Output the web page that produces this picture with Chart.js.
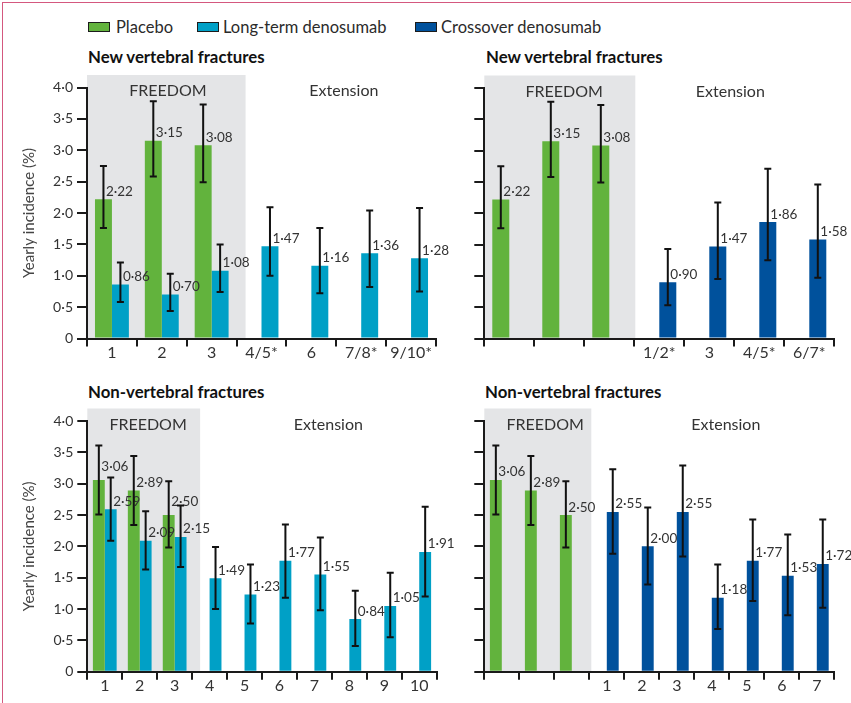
<!DOCTYPE html>
<html>
<head>
<meta charset="utf-8">
<script src="https://cdn.jsdelivr.net/npm/chart.js@4.4.1/dist/chart.umd.min.js"></script>
<style>
  html, body { margin: 0; padding: 0; background: #fff; }
  body { width: 851px; height: 703px; position: relative; overflow: hidden;
         font-family: Lato, "Open Sans", sans-serif; color: #2b2b2b; }
  .frame { position: absolute; left: 2px; top: 2px; width: 860px; height: 720px;
           border-top: 1.5px solid #d4587f; border-left: 1.5px solid #d4587f; }
  .abs { position: absolute; white-space: nowrap; line-height: 20px; }
  .sw { position: absolute; width: 20px; height: 8px; border: 1.5px solid #1c1c1c; }
  .leg { font-size: 16.5px; top: 16.6px; color: #2b2b2b; }
  .ttl { font-size: 16.8px; font-weight: bold; color: #111; }
  canvas { position: absolute; }
</style>
</head>
<body>
<div class="frame"></div>

<!-- legend -->
<div class="sw" style="left:88px;top:21.5px;background:#62b33d"></div>
<div class="abs leg" style="left:116px">Placebo</div>
<div class="sw" style="left:197px;top:21.5px;background:#00a0c6"></div>
<div class="abs leg" style="left:223px">Long-term denosumab</div>
<div class="sw" style="left:415px;top:21.5px;background:#00519c"></div>
<div class="abs leg" style="left:441px">Crossover denosumab</div>

<!-- panel titles -->
<div class="abs ttl" style="left:88px;top:46.8px">New vertebral fractures</div>
<div class="abs ttl" style="left:486px;top:46.8px">New vertebral fractures</div>
<div class="abs ttl" style="left:88px;top:381.8px">Non-vertebral fractures</div>
<div class="abs ttl" style="left:485px;top:381.8px">Non-vertebral fractures</div>

<canvas id="vertLong" width="460" height="300" style="left:0;top:70px"></canvas>
<canvas id="vertCross" width="411" height="300" style="left:440px;top:70px"></canvas>
<canvas id="nonVertLong" width="460" height="303" style="left:0;top:400px"></canvas>
<canvas id="nonVertCross" width="411" height="303" style="left:440px;top:400px"></canvas>

<script>
// ---- categories (years) ----
const vertYearsLong   = ['1', '2', '3', '4/5*', '6', '7/8*', '9/10*'];
const vertYearsCross  = ['', '', '', '1/2*', '3', '4/5*', '6/7*'];
const nonVertYearsLong  = ['1', '2', '3', '4', '5', '6', '7', '8', '9', '10'];
const nonVertYearsCross = ['', '', '', '1', '2', '3', '4', '5', '6', '7'];

// ---- new vertebral fractures, yearly incidence (%) with 95% CI ----
const vertPlacebo    = [2.22, 3.15, 3.08, null, null, null, null];
const vertPlaceboLo  = [1.76, 2.58, 2.49, null, null, null, null];
const vertPlaceboHi  = [2.75, 3.78, 3.73, null, null, null, null];

const vertLongTerm   = [0.86, 0.70, 1.08, 1.47, 1.16, 1.36, 1.28];
const vertLongTermLo = [0.58, 0.44, 0.74, 1.00, 0.72, 0.82, 0.75];
const vertLongTermHi = [1.21, 1.03, 1.50, 2.09, 1.76, 2.04, 2.08];

const vertCrossover   = [null, null, null, 0.90, 1.47, 1.86, 1.58];
const vertCrossoverLo = [null, null, null, 0.53, 0.95, 1.25, 0.97];
const vertCrossoverHi = [null, null, null, 1.43, 2.17, 2.71, 2.46];

// ---- non-vertebral fractures, yearly incidence (%) with 95% CI ----
const nonVertPlacebo   = [3.06, 2.89, 2.50, null, null, null, null, null, null, null];
const nonVertPlaceboLo = [2.51, 2.34, 1.98, null, null, null, null, null, null, null];
const nonVertPlaceboHi = [3.61, 3.44, 3.04, null, null, null, null, null, null, null];

const nonVertLongTerm   = [2.59, 2.09, 2.15, 1.49, 1.23, 1.77, 1.55, 0.84, 1.05, 1.91];
const nonVertLongTermLo = [2.09, 1.63, 1.67, 1.00, 0.77, 1.18, 0.98, 0.41, 0.55, 1.20];
const nonVertLongTermHi = [3.10, 2.56, 2.65, 1.99, 1.71, 2.35, 2.14, 1.29, 1.58, 2.63];

const nonVertCrossover   = [null, null, null, 2.55, 2.00, 2.55, 1.18, 1.77, 1.53, 1.72];
const nonVertCrossoverLo = [null, null, null, 1.88, 1.39, 1.84, 0.68, 1.13, 0.90, 1.02];
const nonVertCrossoverHi = [null, null, null, 3.23, 2.62, 3.29, 1.71, 2.43, 2.19, 2.43];

// ---- styling ----
const GREEN = '#62b33d', CYAN = '#00a0c6', NAVY = '#00519c';
const INK = '#1a1a1a', TEXT = '#333';
const FAMILY = 'Lato, "Open Sans", sans-serif';

Chart.defaults.font.family = FAMILY;

const tickFmt = v => v === 0 ? '0' : v.toFixed(1).replace('.', '\u00b7');
const valFmt = v => v.toFixed(2).replace('.', '\u00b7');

// shaded FREEDOM block and the two period headings
const periodBand = {
  id: 'periodBand',
  beforeDraw(chart, args, opts) {
    const { ctx, chartArea: a } = chart;
    const n = chart.data.labels.length;
    const step = (a.right - a.left) / n;
    const end = a.left + step * opts.cats + opts.extra;
    const w = a.right - a.left;
    ctx.save();
    ctx.fillStyle = '#e4e5e7';
    ctx.fillRect(a.left, a.top - 12.5, end - a.left, a.bottom - a.top + 12.5);
    ctx.fillStyle = TEXT;
    ctx.font = '16px ' + FAMILY;
    ctx.textAlign = 'center';
    ctx.textBaseline = 'middle';
    ctx.fillText('FREEDOM', a.left + w * opts.at[0], a.top + 3.5);
    ctx.fillText('Extension', a.left + w * opts.at[1], a.top + 3.5);
    ctx.restore();
  }
};

// value labels beside each bar, then the 95% CI whiskers over them
const ciAndValues = {
  id: 'ciAndValues',
  afterDatasetsDraw(chart) {
    const { ctx, scales: { y } } = chart;
    const each = fn => chart.data.datasets.forEach((ds, i) => {
      chart.getDatasetMeta(i).data.forEach((bar, j) => {
        if (ds.data[j] != null) fn(ds, bar, j);
      });
    });
    ctx.save();
    ctx.fillStyle = TEXT;
    ctx.font = '13.5px ' + FAMILY;
    ctx.textAlign = 'left';
    ctx.textBaseline = 'alphabetic';
    each((ds, bar, j) => {
      const lift = (ds.lift && ds.lift[j]) || 0;
      ctx.fillText(valFmt(ds.data[j]), bar.x + 2.5, bar.y - 3.5 + lift);
    });
    ctx.strokeStyle = '#111';
    ctx.lineWidth = 2;
    each((ds, bar, j) => {
      const lo = y.getPixelForValue(ds.lo[j]);
      const hi = y.getPixelForValue(ds.hi[j]);
      ctx.beginPath();
      ctx.moveTo(bar.x, lo); ctx.lineTo(bar.x, hi);
      ctx.moveTo(bar.x - 3.5, hi); ctx.lineTo(bar.x + 3.5, hi);
      ctx.moveTo(bar.x - 3.5, lo); ctx.lineTo(bar.x + 3.5, lo);
      ctx.stroke();
    });
    ctx.restore();
  }
};

function panel(id, cfg) {
  return new Chart(document.getElementById(id), {
    type: 'bar',
    data: {
      labels: cfg.labels,
      datasets: cfg.series.map(s => ({
        label: s.name, data: s.values, lo: s.lo, hi: s.hi, lift: s.lift,
        backgroundColor: s.color, borderWidth: 0
      }))
    },
    options: {
      responsive: false,
      animation: false,
      events: [],
      layout: { padding: cfg.padding },
      datasets: { bar: { categoryPercentage: 0.68, barPercentage: 1 } },
      plugins: {
        legend: { display: false },
        tooltip: { enabled: false },
        periodBand: { cats: 3, extra: cfg.bandExtra, at: cfg.headingsAt }
      },
      scales: {
        x: {
          grid: { offset: true, drawOnChartArea: false, drawTicks: true, tickLength: 8, color: INK, lineWidth: 2 },
          border: { display: true, color: INK, width: 2 },
          ticks: { color: TEXT, font: { size: 16 }, padding: -3, maxRotation: 0, autoSkip: false },
          afterFit(s) { s.height = 30; }
        },
        y: {
          min: 0, max: 4,
          ticks: { stepSize: 0.5, display: cfg.yLabels, color: TEXT, font: { size: 14 }, padding: 4, callback: tickFmt },
          grid: { drawOnChartArea: false, drawTicks: true, tickLength: 10, color: INK, lineWidth: 2 },
          border: { display: true, color: INK, width: 2 },
          title: { display: cfg.yLabels, text: 'Yearly incidence (%)', color: '#444', font: { size: 15 }, padding: { top: 20, bottom: 0 } },
          afterFit(s) { s.width = cfg.yWidth; }
        }
      }
    },
    plugins: [periodBand, ciAndValues]
  });
}

panel('vertLong', {
  labels: vertYearsLong,
  series: [
    { name: 'Placebo', values: vertPlacebo, lo: vertPlaceboLo, hi: vertPlaceboHi, color: GREEN },
    { name: 'Long-term denosumab', values: vertLongTerm, lo: vertLongTermLo, hi: vertLongTermHi, color: CYAN }
  ],
  padding: { top: 17.5, right: 24, bottom: 1.5, left: 0 },
  yWidth: 87, yLabels: true, bandExtra: 9, headingsAt: [0.232, 0.736]
});

panel('vertCross', {
  labels: vertYearsCross,
  series: [
    { name: 'Placebo', values: vertPlacebo, lo: vertPlaceboLo, hi: vertPlaceboHi, color: GREEN },
    { name: 'Crossover denosumab', values: vertCrossover, lo: vertCrossoverLo, hi: vertCrossoverHi, color: NAVY }
  ],
  padding: { top: 18, right: 16.7, bottom: 1.5, left: 0 },
  yWidth: 44.3, yLabels: false, bandExtra: 1, headingsAt: [0.228, 0.703]
});

panel('nonVertLong', {
  labels: nonVertYearsLong,
  series: [
    { name: 'Placebo', values: nonVertPlacebo, lo: nonVertPlaceboLo, hi: nonVertPlaceboHi, color: GREEN, lift: [-5, 0, -6] },
    { name: 'Long-term denosumab', values: nonVertLongTerm, lo: nonVertLongTermLo, hi: nonVertLongTermHi, color: CYAN }
  ],
  padding: { top: 21, right: 23.3, bottom: 1.3, left: 0 },
  yWidth: 87.3, yLabels: true, bandExtra: 8, headingsAt: [0.174, 0.690]
});

panel('nonVertCross', {
  labels: nonVertYearsCross,
  series: [
    { name: 'Placebo', values: nonVertPlacebo, lo: nonVertPlaceboLo, hi: nonVertPlaceboHi, color: GREEN },
    { name: 'Crossover denosumab', values: nonVertCrossover, lo: nonVertCrossoverLo, hi: nonVertCrossoverHi, color: NAVY }
  ],
  padding: { top: 21, right: 16.7, bottom: 1.3, left: 0 },
  yWidth: 44.3, yLabels: false, bandExtra: 2, headingsAt: [0.174, 0.690]
});
</script>
</body>
</html>
